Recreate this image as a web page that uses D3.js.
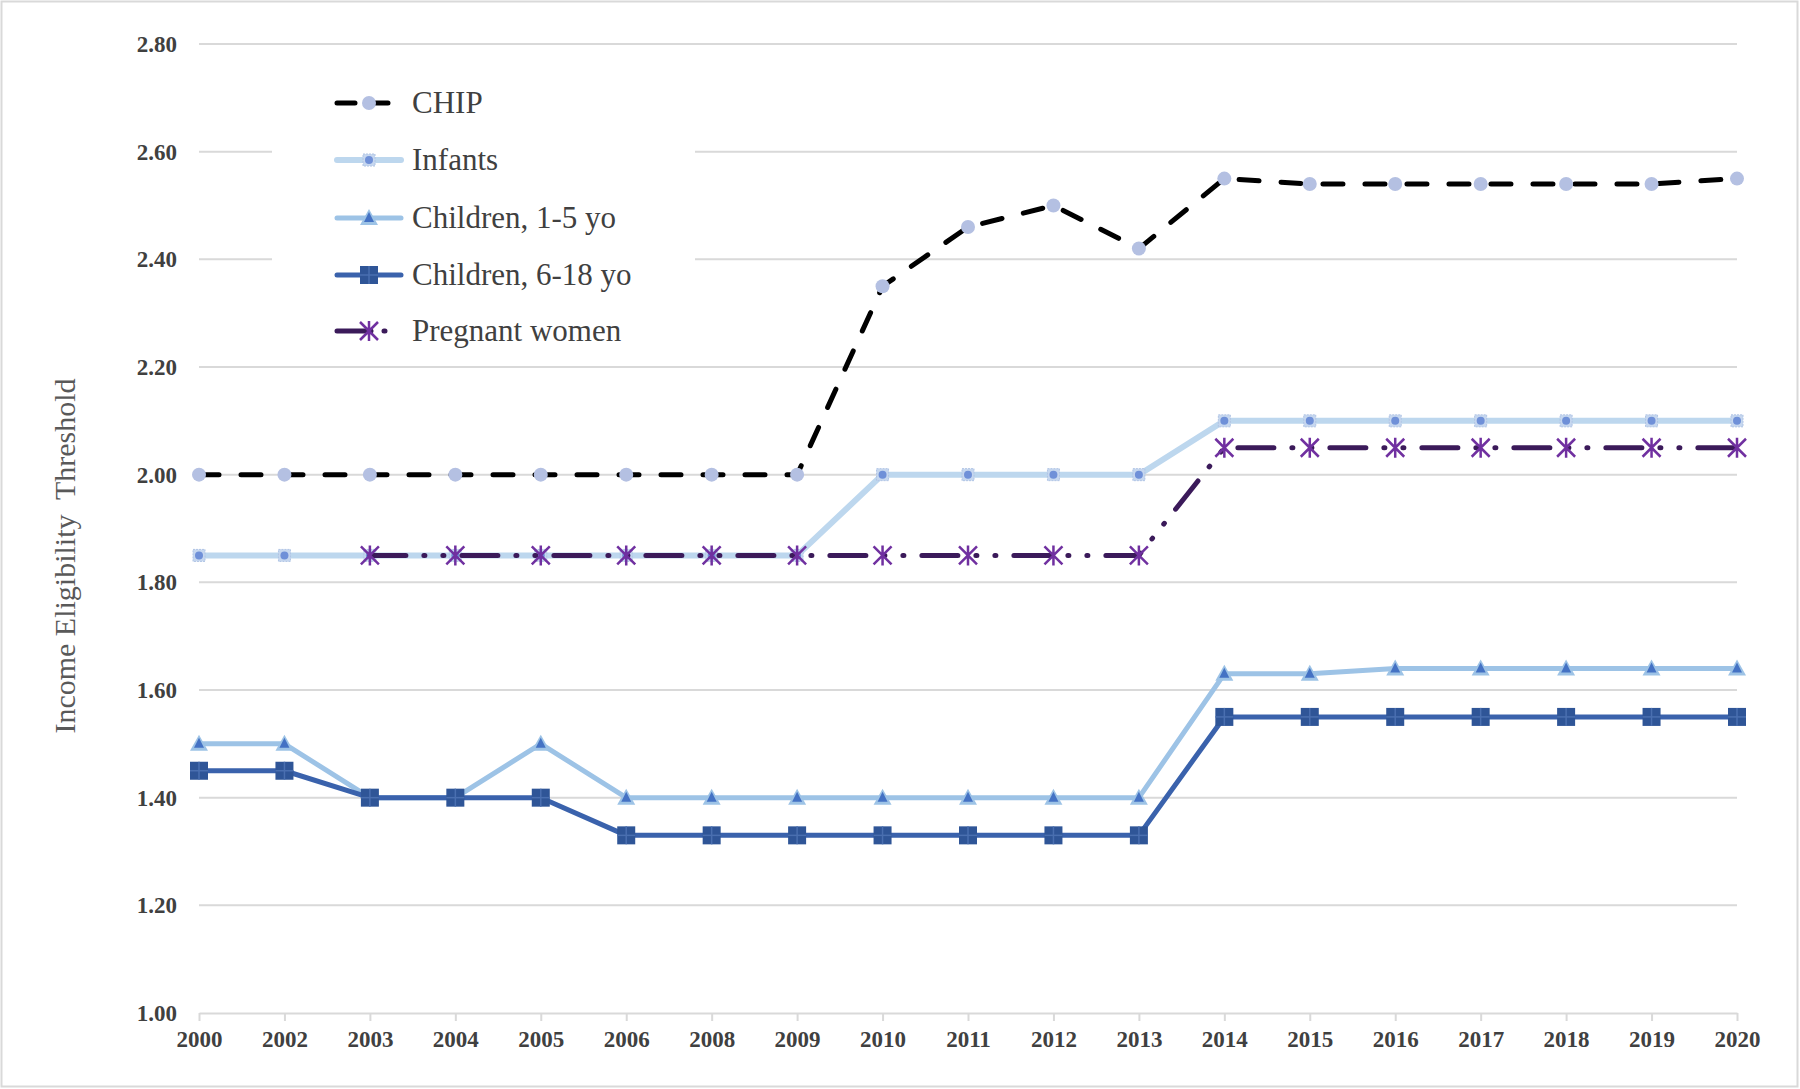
<!DOCTYPE html>
<html>
<head>
<meta charset="utf-8">
<script src="https://cdn.jsdelivr.net/npm/d3@7"></script>
<style>
html,body{margin:0;padding:0;background:#fff;}
svg{display:block;}
</style>
</head>
<body>
<svg id="chart" width="1800" height="1089"></svg>
<script>
const years = ["2000","2002","2003","2004","2005","2006","2008","2009","2010","2011","2012","2013","2014","2015","2016","2017","2018","2019","2020"];
const chip = [2.00,2.00,2.00,2.00,2.00,2.00,2.00,2.00,2.35,2.46,2.50,2.42,2.55,2.54,2.54,2.54,2.54,2.54,2.55];
const infants = [1.85,1.85,1.85,1.85,1.85,1.85,1.85,1.85,2.00,2.00,2.00,2.00,2.10,2.10,2.10,2.10,2.10,2.10,2.10];
const children1to5 = [1.50,1.50,1.40,1.40,1.50,1.40,1.40,1.40,1.40,1.40,1.40,1.40,1.63,1.63,1.64,1.64,1.64,1.64,1.64];
const children6to18 = [1.45,1.45,1.40,1.40,1.40,1.33,1.33,1.33,1.33,1.33,1.33,1.33,1.55,1.55,1.55,1.55,1.55,1.55,1.55];
const pregnant = [null,null,1.85,1.85,1.85,1.85,1.85,1.85,1.85,1.85,1.85,1.85,2.05,2.05,2.05,2.05,2.05,2.05,2.05];
const seriesNames = ["CHIP","Infants","Children, 1-5 yo","Children, 6-18 yo","Pregnant women"];
const yTicks = [1.00,1.20,1.40,1.60,1.80,2.00,2.20,2.40,2.60,2.80];
const yTitle = "Income Eligibility  Threshold";

const svg = d3.select("#chart");
const W = 1800, H = 1089;
const x = d3.scalePoint().domain(years).range([199, 1737]).padding(0);
const y = d3.scaleLinear().domain([1.0, 2.8]).range([1013, 44]);

// outer border
svg.append("rect").attr("x",1.5).attr("y",1.5).attr("width",W-4).attr("height",H-4)
  .attr("fill","#fff").attr("stroke","#d9d9d9").attr("stroke-width",2);

// gridlines
const grid = svg.append("g");
grid.selectAll("line").data(yTicks.filter(d => d > 1.0)).join("line")
  .attr("x1", 199).attr("x2", 1737)
  .attr("y1", d => y(d)).attr("y2", d => y(d))
  .attr("stroke", "#d9d9d9").attr("stroke-width", 2);

// y tick labels
svg.append("g").selectAll("text").data(yTicks).join("text")
  .attr("x", 177).attr("y", d => y(d)).attr("dy", "0.35em")
  .attr("text-anchor", "end")
  .attr("font-family", "Liberation Serif, Times New Roman, serif")
  .attr("font-weight", "bold").attr("font-size", 23).attr("fill", "#404040")
  .text(d => d.toFixed(2));

// x axis
const xAxis = d3.axisBottom(x).tickSize(8).tickSizeOuter(0);
const gx = svg.append("g").attr("transform", `translate(0,${y(1.0)})`).call(xAxis);
gx.select(".domain").attr("stroke", "#d9d9d9").attr("stroke-width", 2);
gx.selectAll(".tick line").attr("stroke", "#d9d9d9").attr("stroke-width", 2);
gx.selectAll(".tick text")
  .attr("y", 18).attr("dy", "0.71em")
  .attr("font-family", "Liberation Serif, Times New Roman, serif")
  .attr("font-weight", "bold").attr("font-size", 23).attr("fill", "#404040");

// y title
svg.append("text")
  .attr("transform", `translate(75,556) rotate(-90)`)
  .attr("text-anchor", "middle")
  .attr("font-family", "Liberation Serif, Times New Roman, serif")
  .attr("font-size", 30).attr("fill", "#595959")
  .attr("xml:space", "preserve").style("white-space", "pre")
  .text(yTitle);

// legend background (covers gridlines)
svg.append("rect").attr("x", 272).attr("y", 52).attr("width", 423).attr("height", 306).attr("fill", "#fff");

const styles = [
  {data: chip, color: "#000000", width: 5, dash: "20,22", cap: "round", marker: "circle"},
  {data: infants, color: "#bdd7ee", width: 6, dash: null, cap: "round", marker: "infant"},
  {data: children1to5, color: "#9dc3e6", width: 5, dash: null, cap: "round", marker: "triangle"},
  {data: children6to18, color: "#3a62ac", width: 5, dash: null, cap: "round", marker: "square"},
  {data: pregnant, color: "#3b1a5a", width: 5, dash: "36,18,1,18,1,18", cap: "round", marker: "star"}
];

function drawMarker(g, type, cx, cy) {
  if (type === "circle") {
    g.append("circle").attr("cx", cx).attr("cy", cy).attr("r", 7).attr("fill", "#b4c0e2");
  } else if (type === "infant") {
    g.append("rect").attr("x", cx-6).attr("y", cy-6).attr("width", 12).attr("height", 12)
      .attr("fill", "#c6d7ef").attr("stroke", "#b0c4e4").attr("stroke-width", 1).attr("stroke-dasharray","2,1");
    g.append("circle").attr("cx", cx).attr("cy", cy).attr("r", 4).attr("fill", "#6f90d8");
  } else if (type === "triangle") {
    g.append("path").attr("d", `M${cx},${cy-9}L${cx+9},${cy+7}L${cx-9},${cy+7}Z`).attr("fill", "#9dc3e6");
    g.append("path").attr("d", `M${cx},${cy-6}L${cx+5},${cy+4}L${cx-5},${cy+4}Z`).attr("fill", "#4472c4");
  } else if (type === "square") {
    g.append("rect").attr("x", cx-9).attr("y", cy-9).attr("width", 18).attr("height", 18).attr("fill", "#2f5597");
    g.append("line").attr("x1", cx).attr("x2", cx).attr("y1", cy-9).attr("y2", cy+9).attr("stroke", "#4a6fb0").attr("stroke-width", 1.5);
    g.append("line").attr("x1", cx-9).attr("x2", cx+9).attr("y1", cy).attr("y2", cy).attr("stroke", "#4a6fb0").attr("stroke-width", 1.5);
  } else if (type === "star") {
    const s = 9;
    const p = `M${cx-s},${cy-s}L${cx+s},${cy+s}M${cx-s},${cy+s}L${cx+s},${cy-s}M${cx},${cy-s-1}L${cx},${cy+s+1}`;
    g.append("path").attr("d", p).attr("stroke", "#7030a0").attr("stroke-width", 2.5).attr("fill", "none");
  }
}

styles.forEach((s, i) => {
  const line = d3.line().defined(d => d != null).x((d, j) => x(years[j])).y(d => y(d));
  const g = svg.append("g");
  g.append("path").datum(s.data).attr("d", line)
    .attr("fill", "none").attr("stroke", s.color).attr("stroke-width", s.width)
    .attr("stroke-linecap", s.cap).attr("stroke-linejoin", "round")
    .attr("stroke-dasharray", s.dash);
  s.data.forEach((v, j) => { if (v != null) drawMarker(g, s.marker, x(years[j]), y(v)); });
});

// legend
const legY = [103, 160, 218, 275, 331];
const leg = svg.append("g");
seriesNames.forEach((name, i) => {
  const s = styles[i];
  const ly = legY[i];
  leg.append("line").attr("x1", 337).attr("x2", 401).attr("y1", ly).attr("y2", ly)
    .attr("stroke", s.color).attr("stroke-width", s.width)
    .attr("stroke-linecap", "round")
    .attr("stroke-dasharray", i === 0 ? "18,15" : (i === 4 ? "34,13,1,20" : null));
  drawMarker(leg, s.marker, 369, ly);
  leg.append("text").attr("x", 412).attr("y", ly).attr("dy", "0.33em")
    .attr("font-family", "Liberation Serif, Times New Roman, serif")
    .attr("font-size", 31).attr("fill", "#404040")
    .text(name);
});
</script>
</body>
</html>
